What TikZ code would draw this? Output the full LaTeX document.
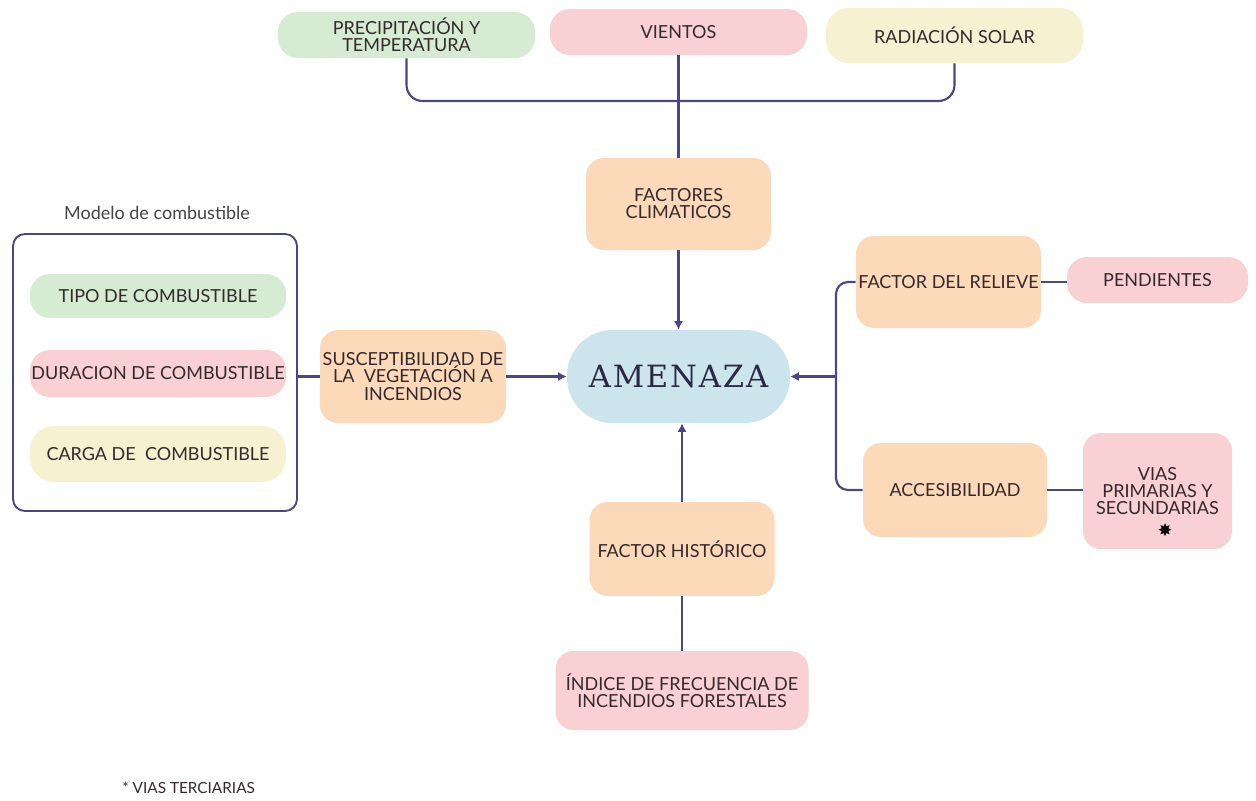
\documentclass[tikz,border=0pt]{standalone}
\usepackage{fontspec}
\setmainfont{Lato}
\newfontfamily\titlefont[LetterSpace=6]{DejaVu Serif}
\newfontfamily\symbolfont{DejaVu Sans}
\usetikzlibrary{arrows.meta}

\definecolor{fillgreen}{HTML}{D5EBD2}
\definecolor{fillpink}{HTML}{F9D0D3}
\definecolor{fillyellow}{HTML}{F5F1D1}
\definecolor{fillorange}{HTML}{FCD9B9}
\definecolor{fillblue}{HTML}{CCE4EB}
\definecolor{linkcol}{HTML}{4B4784}
\definecolor{ink}{HTML}{35292D}
\definecolor{titleink}{HTML}{2A2845}
\definecolor{captionink}{HTML}{444444}

\begin{document}
\begin{tikzpicture}[x=0.75pt,y=-0.75pt,
  every node/.style={inner sep=0pt, align=center, text=ink,
    font=\fontsize{13.5}{12.8}\selectfont},
  pillbox/.style={rectangle, rounded corners=15pt, minimum height=34.5pt},
  cardbox/.style={rectangle, rounded corners=13.5pt, minimum width=138.75pt, minimum height=69.75pt, fill=fillorange},
  conn/.style={draw=linkcol, line width=1.6pt},
  tip/.style={-{Latex[length=6.5pt,width=7pt]}}
]
\useasboundingbox (0,0) rectangle (1256,800);

% climate inputs
\node[pillbox, fill=fillgreen, minimum width=192.75pt] (prec) at (406.5,35) {PRECIPITACIÓN Y\\TEMPERATURA};
\node[pillbox, fill=fillpink, minimum width=192.75pt] (vien) at (678.5,32) {VIENTOS};
\node[pillbox, fill=fillyellow, minimum width=192.75pt, minimum height=41.25pt, rounded corners=17pt] (rad) at (954.5,35.5) {RADIACIÓN SOLAR};

% central factors
\node[cardbox, minimum height=69pt] (fclim) at (678.5,204) {FACTORES\\CLIMATICOS};
\node[rectangle, rounded corners=34pt, fill=fillblue, minimum width=167.25pt, minimum height=69.75pt,
      text=titleink, font=\titlefont\fontsize{23}{24}\selectfont] (amen) at (678.5,376.5) {AMENAZA};
\node[cardbox, minimum width=139.5pt] (susc) at (413,376.5) {SUSCEPTIBILIDAD DE\\LA \ VEGETACIÓN A\\INCENDIOS};
\node[cardbox, minimum height=70.5pt] (fhist) at (682,549) {FACTOR HISTÓRICO};
\node[rectangle, rounded corners=13.5pt, fill=fillpink, minimum width=189.75pt, minimum height=59.25pt] (indice) at (682,690.5) {ÍNDICE DE FRECUENCIA DE\\INCENDIOS FORESTALES};

% fuel model group
\node[text=captionink] (modlabel) at (157,213) {Modelo de combustible};
\node[rectangle, rounded corners=9pt, draw=linkcol, line width=1.4pt, fill=white,
      minimum width=213pt, minimum height=207.75pt] (modbox) at (155,372.5) {};
\node[pillbox, fill=fillgreen, minimum width=192pt, minimum height=33pt] (tipo) at (158,296) {TIPO DE COMBUSTIBLE};
\node[pillbox, fill=fillpink, minimum width=192pt, minimum height=35.25pt] (dura) at (158,373.5) {DURACION DE COMBUSTIBLE};
\node[pillbox, fill=fillyellow, minimum width=192pt, minimum height=42pt, rounded corners=18pt] (carga) at (158,454) {CARGA DE \ COMBUSTIBLE};

% terrain and access
\node[cardbox, minimum height=69pt] (frel) at (948.5,282) {FACTOR DEL RELIEVE};
\node[pillbox, fill=fillpink, minimum width=135.75pt] (pend) at (1157.5,280) {PENDIENTES};
\node[cardbox, minimum width=138pt, minimum height=70.5pt] (acc) at (955,490) {ACCESIBILIDAD};
\node[rectangle, rounded corners=13.5pt, fill=fillpink, minimum width=111.75pt, minimum height=87pt] (vias) at (1157.5,491) {VIAS\\PRIMARIAS Y\\SECUNDARIAS};
\node[text=black, font=\symbolfont\fontsize{13}{13}\selectfont] (star) at (1165,530) {✸};

% footnote
\node[anchor=west, font=\fontsize{11.5}{12}\selectfont] (note) at (122,788) {* VIAS TERCIARIAS};

% connectors
\coordinate (bar) at (678.5,101);
\draw[conn, rounded corners=12pt] (prec.south) |- (bar) -| (rad.south);
\draw[conn] (vien.south) -- (fclim.north);
\draw[conn, tip] (fclim.south) -- (amen.north);

\draw[conn] (modbox.east |- susc.west) -- (susc.west);
\draw[conn, tip] (susc.east) -- (amen.west);

\coordinate (rj) at (836,376.5);
\draw[conn, rounded corners=9pt] (frel.west) -| (rj) |- (acc.west);
\draw[conn, tip] (rj) -- (amen.east);
\draw[conn] (frel.east) -- (pend.west |- frel.east);
\draw[conn] (acc.east) -- (vias.west |- acc.east);

\draw[conn, tip] (fhist.north) -- (fhist.north |- amen.south);
\draw[conn] (fhist.south) -- (indice.north);
\end{tikzpicture}
\end{document}
